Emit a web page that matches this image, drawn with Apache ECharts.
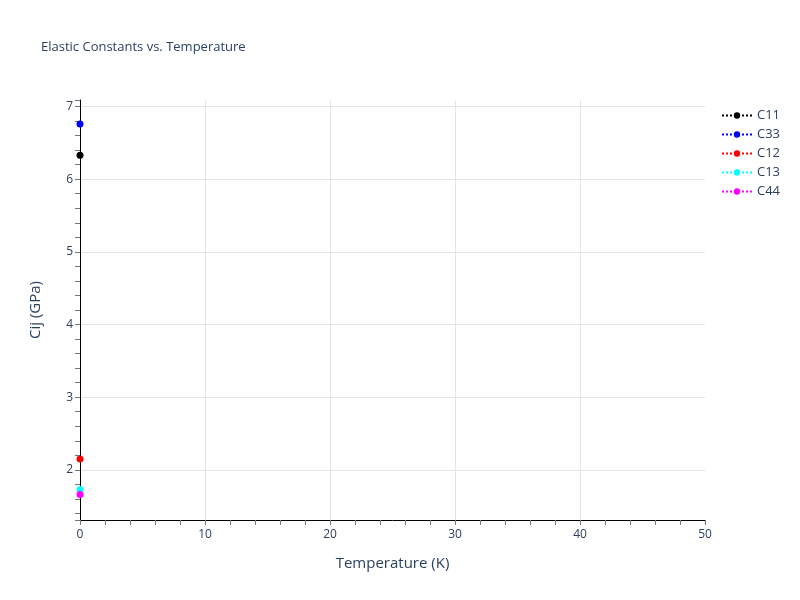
<!DOCTYPE html>
<html>
<head>
<meta charset="utf-8">
<script src="https://cdn.jsdelivr.net/npm/echarts@6/dist/echarts.min.js"></script>
<style>html,body{margin:0;padding:0;background:#fff}#chart{width:800px;height:600px}</style>
</head>
<body>
<div id="chart"></div>
<script>
const temperature = [0];
const seriesNames = ['C11', 'C33', 'C12', 'C13', 'C44'];
const c11 = [6.33];
const c33 = [6.76];
const c12 = [2.15];
const c13 = [1.73];
const c44 = [1.66];
const seriesColors = ['#000000', '#0000ff', '#ff0000', '#00ffff', '#ff00ff'];
const xTicks = [0, 10, 20, 30, 40, 50];
const yRange = [1.31, 7.09];

const valuesList = [c11, c33, c12, c13, c44];
const fontFamily = '"Open Sans", verdana, arial, sans-serif';
const textColor = '#2a3f5f';
const gridColor = '#e5e5e5';

const chart = echarts.init(document.getElementById('chart'));
chart.setOption({
  animation: false,
  backgroundColor: '#ffffff',
  textStyle: { fontFamily: fontFamily },
  title: {
    text: 'Elastic Constants vs. Temperature',
    left: 36, top: 36,
    textStyle: { fontSize: 13, fontWeight: 'normal', color: textColor, fontFamily: fontFamily }
  },
  legend: {
    orient: 'vertical',
    left: 716, top: 104,
    itemWidth: 30, itemHeight: 8, itemGap: 6,
    textStyle: { fontSize: 13, color: textColor, fontFamily: fontFamily },
    data: seriesNames
  },
  grid: { left: 80, right: 95, top: 100, bottom: 80, containLabel: false },
  xAxis: {
    type: 'value',
    min: xTicks[0], max: xTicks[xTicks.length - 1], interval: 10,
    name: 'Temperature (K)', nameLocation: 'middle', nameGap: 36,
    nameTextStyle: { fontSize: 15, color: textColor, fontFamily: fontFamily },
    axisLine: { show: true, onZero: false, lineStyle: { color: '#000', width: 1 } },
    axisTick: { show: true, inside: false, length: 5, lineStyle: { color: '#777' } },
    minorTick: { show: true, splitNumber: 5, length: 5, lineStyle: { color: '#777' } },
    axisLabel: { fontSize: 12, color: textColor, margin: 9, fontFamily: fontFamily },
    splitLine: { show: true, showMinLine: false, showMaxLine: false, lineStyle: { color: gridColor, width: 1 } },
    minorSplitLine: { show: false }
  },
  yAxis: {
    type: 'value',
    min: yRange[0], max: yRange[1],
    minInterval: 0.2, maxInterval: 0.2, splitNumber: 29,
    name: 'Cij (GPa)', nameLocation: 'middle', nameGap: 37,
    nameTextStyle: { fontSize: 15, color: textColor, fontFamily: fontFamily },
    axisLine: { show: true, onZero: false, lineStyle: { color: '#000', width: 1 } },
    axisTick: { show: true, inside: false, length: 5, lineStyle: { color: '#777' } },
    axisLabel: {
      fontSize: 12, color: textColor, margin: 7, fontFamily: fontFamily,
      formatter: function (v) {
        const r = Math.round(v);
        return Math.abs(v - r) < 1e-6 ? String(r) : '';
      }
    },
    splitLine: {
      show: true, showMinLine: false, showMaxLine: false,
      lineStyle: { color: ['transparent', 'transparent', 'transparent', gridColor, 'transparent'], width: 1 }
    }
  },
  series: seriesNames.map(function (name, i) {
    return {
      name: name,
      type: 'line',
      data: temperature.map(function (t, j) { return [t, valuesList[i][j]]; }),
      symbol: 'circle',
      symbolSize: 7,
      showSymbol: true,
      clip: false,
      itemStyle: { color: seriesColors[i] },
      lineStyle: { color: seriesColors[i], type: 'dotted', width: 2 }
    };
  })
});
</script>
</body>
</html>
